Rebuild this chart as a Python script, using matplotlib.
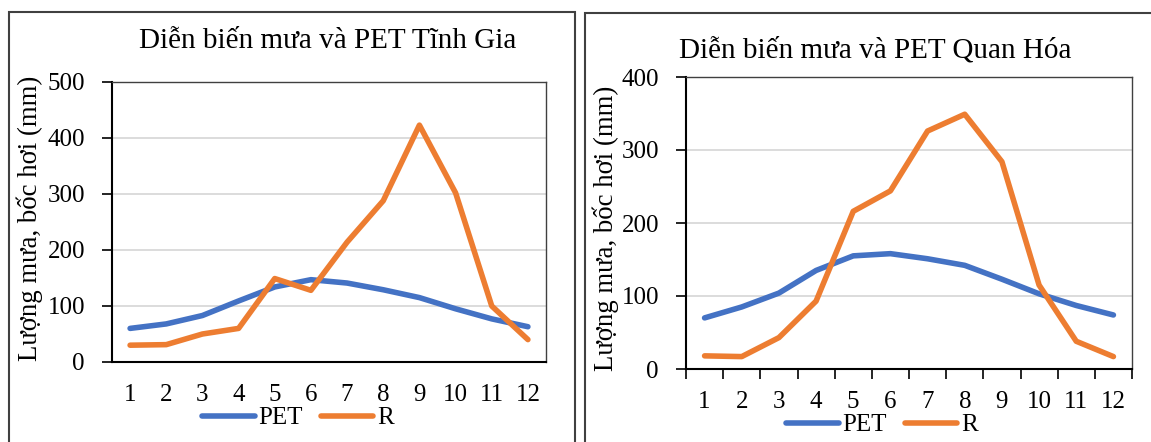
import matplotlib
matplotlib.use("Agg")
import matplotlib.pyplot as plt
from matplotlib.patches import Rectangle
from matplotlib.ticker import MultipleLocator, FixedLocator

plt.rcParams['font.family'] = ['Liberation Serif', 'DejaVu Serif']

months = list(range(1, 13))

# Tinh Gia
pet_tg = [60, 68, 83, 109, 134, 147, 141, 129, 115, 95, 77, 63]
r_tg = [30, 31, 50, 60, 149, 128, 214, 288, 423, 302, 100, 40]

# Quan Hoa
pet_qh = [70, 85, 104, 135, 155, 158, 151, 142, 123, 103, 87, 74]
r_qh = [18, 17, 43, 93, 216, 244, 326, 349, 284, 115, 38, 17]

BLUE = '#4472c4'
ORANGE = '#ed7d31'
W, H = 1151, 442

fig = plt.figure(figsize=(W / 100, H / 100), dpi=100)


def px_axes(x0, y0, x1, y1):
    # axes from pixel box (top-left origin)
    return fig.add_axes([x0 / W, 1 - y1 / H, (x1 - x0) / W, (y1 - y0) / H])


def draw(ax, pet, r, ymax, xticks_marks):
    ax.plot(months, pet, color=BLUE, lw=4, solid_capstyle='round', label='PET', zorder=3)
    ax.plot(months, r, color=ORANGE, lw=4, solid_capstyle='round', label='R', zorder=3)
    ax.set_xlim(0.5, 12.5)
    ax.set_ylim(0, ymax)
    ax.yaxis.set_major_locator(MultipleLocator(100))
    ax.set_xticks(months)
    ax.grid(axis='y', color='#d9d9d9', lw=1.3)
    ax.set_axisbelow(True)
    for s in ['left', 'bottom']:
        ax.spines[s].set_color('black')
        ax.spines[s].set_linewidth(1.5)
    for s in ['top', 'right']:
        ax.spines[s].set_color('#404040')
        ax.spines[s].set_linewidth(1.0)
    ax.tick_params(axis='y', labelsize=18, length=7, width=1.2, pad=12.5)
    if xticks_marks:
        ax.xaxis.set_minor_locator(FixedLocator([m + 0.5 for m in range(0, 13)]))
        ax.tick_params(axis='x', which='major', length=0, labelsize=18, pad=16)
        ax.tick_params(axis='x', which='minor', length=7, width=1.2)
    else:
        ax.tick_params(axis='x', length=0, labelsize=18, pad=16)
    ax.set_ylabel('Lượng mưa, bốc hơi (mm)', fontsize=19.3)


def add_legend(ax, cx, cy):
    ax.legend(loc='center', bbox_to_anchor=(cx / W, 1 - cy / H), bbox_transform=fig.transFigure,
              ncol=2, frameon=False, fontsize=18, handlelength=2.1, columnspacing=0.7,
              handletextpad=0.15, borderpad=0)


# panel frames
fig.add_artist(Rectangle((9 / W, -0.05), (575 - 9) / W, 1.05 - 12 / H, transform=fig.transFigure,
                         fill=False, ec='#404040', lw=1.5))
fig.add_artist(Rectangle((585 / W, -0.05), 1.1, 1.05 - 13 / H, transform=fig.transFigure,
                         fill=False, ec='#404040', lw=1.5))

ax1 = px_axes(112, 82, 546, 362)
draw(ax1, pet_tg, r_tg, 500, False)
ax1.yaxis.set_label_coords(-0.159, 0.514)
fig.text(328 / W, 1 - 41 / H, 'Diễn biến mưa và PET Tĩnh Gia', fontsize=21, ha='center', va='center')
add_legend(ax1, 298, 418)

ax2 = px_axes(686, 77, 1132, 369)
draw(ax2, pet_qh, r_qh, 400, True)
ax2.yaxis.set_label_coords(-0.150, 0.483)
fig.text(875 / W, 1 - 50 / H, 'Diễn biến mưa và PET Quan Hóa', fontsize=21, ha='center', va='center')
add_legend(ax2, 882, 425)

fig.savefig('out.png', dpi=100)
